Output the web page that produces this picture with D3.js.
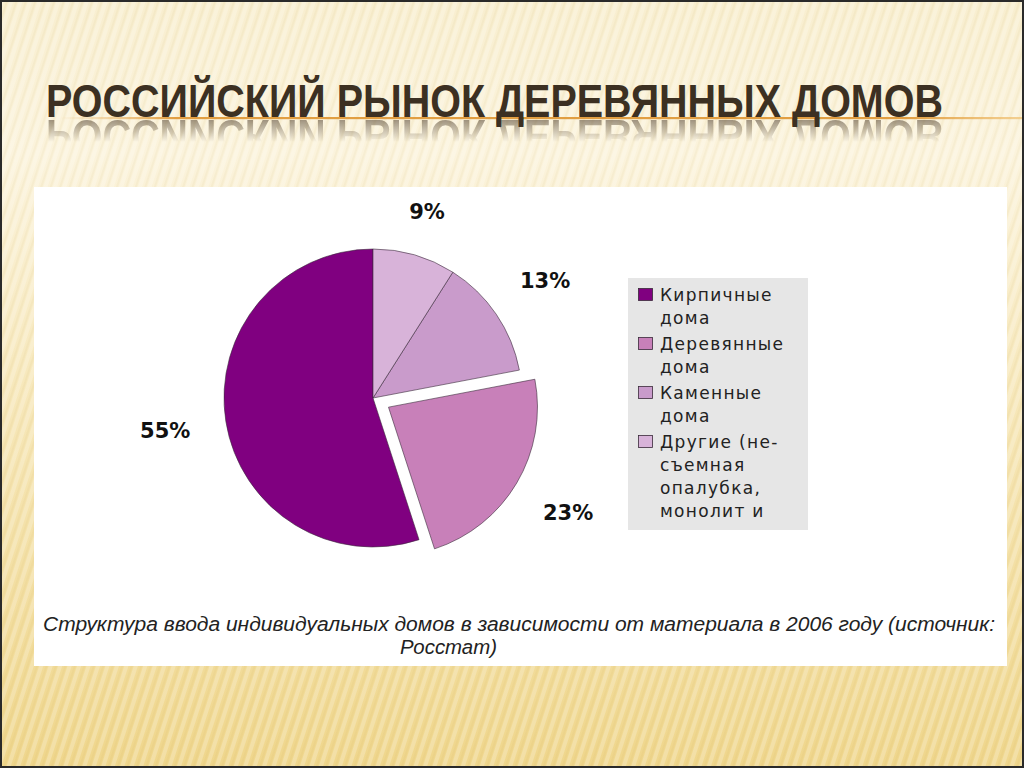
<!DOCTYPE html>
<html>
<head>
<meta charset="utf-8">
<script src="https://cdn.jsdelivr.net/npm/d3@7"></script>
<style>
  body { margin: 0; overflow: hidden; background: #fff; }
</style>
</head>
<body>
<svg width="1024" height="768"></svg>
<script>
// chart data
const title = "РОССИЙСКИЙ РЫНОК ДЕРЕВЯННЫХ ДОМОВ";
const categories = ["Кирпичные дома", "Деревянные дома", "Каменные дома", "Другие (несъемная опалубка, монолит и"];
const legendLines = [["Кирпичные", "дома"], ["Деревянные", "дома"], ["Каменные", "дома"], ["Другие (не-", "съемная", "опалубка,", "монолит и"]];
const shares = [55, 23, 13, 9];
const shareLabels = ["55%", "23%", "13%", "9%"];
const colors = ["#800080", "#c880b9", "#c99bcb", "#d8b3d9"];
const exploded = [false, true, false, false];
const caption = ["Структура ввода индивидуальных домов в зависимости от материала в 2006 году (источник:", "Росстат)"];

const svg = d3.select("svg");
const width = 1024, height = 768;
const defs = svg.append("defs");

// background
const bg = defs.append("linearGradient").attr("id", "bg").attr("x1", 0).attr("y1", 0).attr("x2", 0).attr("y2", 1);
bg.append("stop").attr("offset", 0).attr("stop-color", "#f8eecf");
bg.append("stop").attr("offset", 0.2).attr("stop-color", "#fbf3dc");
bg.append("stop").attr("offset", 0.55).attr("stop-color", "#f6e6b6");
bg.append("stop").attr("offset", 1).attr("stop-color", "#efd68c");

const stripes = defs.append("pattern").attr("id", "stripes")
    .attr("patternUnits", "userSpaceOnUse")
    .attr("width", 9).attr("height", 40)
    .attr("patternTransform", "rotate(18)");
stripes.append("rect").attr("x", 0).attr("y", 0).attr("width", 4).attr("height", 40)
    .attr("fill", "#fff").attr("opacity", 0.22);
stripes.append("rect").attr("x", 6).attr("y", 0).attr("width", 2).attr("height", 40)
    .attr("fill", "#b08a30").attr("opacity", 0.05);

svg.append("rect").attr("width", width).attr("height", height).attr("fill", "url(#bg)");
svg.append("rect").attr("width", width).attr("height", height).attr("fill", "url(#stripes)");

// title underline
const lineGrad = defs.append("linearGradient").attr("id", "lineGrad");
lineGrad.append("stop").attr("offset", 0).attr("stop-color", "#e9a84a").attr("stop-opacity", 0);
lineGrad.append("stop").attr("offset", 0.12).attr("stop-color", "#e09a3a").attr("stop-opacity", 0.95);
lineGrad.append("stop").attr("offset", 0.88).attr("stop-color", "#e09a3a").attr("stop-opacity", 0.95);
lineGrad.append("stop").attr("offset", 1).attr("stop-color", "#f0c070").attr("stop-opacity", 0.7);
svg.append("rect").attr("x", 60).attr("y", 117).attr("width", width - 62).attr("height", 2.2)
    .attr("fill", "url(#lineGrad)");

// title with reflection
const titleFont = "'Liberation Sans Narrow', 'Arial Narrow', 'Liberation Sans', sans-serif";
const titleX = 46, titleBase = 117, titleLen = 897, titleSize = 47;

const reflGrad = defs.append("linearGradient").attr("id", "reflGrad")
    .attr("gradientUnits", "userSpaceOnUse").attr("x1", 0).attr("y1", 119).attr("x2", 0).attr("y2", 142);
reflGrad.append("stop").attr("offset", 0).attr("stop-color", "#fff").attr("stop-opacity", 0.6);
reflGrad.append("stop").attr("offset", 1).attr("stop-color", "#fff").attr("stop-opacity", 0);
defs.append("mask").attr("id", "reflMask").attr("maskUnits", "userSpaceOnUse")
    .attr("x", 0).attr("y", 0).attr("width", width).attr("height", height)
    .append("rect").attr("x", 0).attr("y", 118).attr("width", width).attr("height", 30)
    .attr("fill", "url(#reflGrad)");

svg.append("g").attr("mask", "url(#reflMask)")
  .append("text")
    .attr("transform", `translate(0,${2 * titleBase + 3}) scale(1,-1)`)
    .attr("x", titleX).attr("y", titleBase)
    .attr("textLength", titleLen).attr("lengthAdjust", "spacingAndGlyphs")
    .attr("font-family", titleFont).attr("font-weight", "bold").attr("font-size", titleSize)
    .attr("fill", "#5a4a36")
    .text(title);

svg.append("text")
    .attr("x", titleX).attr("y", titleBase)
    .attr("textLength", titleLen).attr("lengthAdjust", "spacingAndGlyphs")
    .attr("font-family", titleFont).attr("font-weight", "bold").attr("font-size", titleSize)
    .attr("fill", "#3c3022")
    .text(title);

// white panel
svg.append("rect").attr("x", 34).attr("y", 187).attr("width", 973).attr("height", 479).attr("fill", "#fff");

// pie
const cx = 373, cy = 398, radius = 149, explode = 18;
const data = shares.map((v, i) => ({ name: categories[i], value: v, label: shareLabels[i], color: colors[i], exploded: exploded[i] }));

const pie = d3.pie().sort(null).value(d => d.value).startAngle(0).endAngle(-2 * Math.PI);
const arcs = pie(data);
const arc = d3.arc().innerRadius(0).outerRadius(radius);

const gPie = svg.append("g").attr("transform", `translate(${cx},${cy})`);

function offset(d, r) {
  const a = (d.startAngle + d.endAngle) / 2;
  return [Math.sin(a) * r, -Math.cos(a) * r];
}

gPie.selectAll("path").data(arcs).enter().append("path")
    .attr("d", arc)
    .attr("transform", d => {
      const [dx, dy] = d.data.exploded ? offset(d, explode) : [0, 0];
      return `translate(${dx},${dy})`;
    })
    .attr("fill", d => d.data.color)
    .attr("stroke", "#3a2a3a")
    .attr("stroke-width", 0.6)
    .attr("stroke-linejoin", "round");

// percentage labels placed outside, box edge anchored to a circle
const labelR = 185;
const labelSel = gPie.selectAll("text.pct").data(arcs).enter().append("text")
    .attr("class", "pct")
    .attr("font-family", "'DejaVu Sans', sans-serif")
    .attr("font-weight", "bold")
    .attr("font-size", 21)
    .attr("fill", "#111")
    .attr("text-anchor", "middle")
    .attr("dominant-baseline", "central")
    .text(d => d.data.label);

labelSel.each(function(d) {
  const bb = this.getBBox();
  const hw = bb.width / 2, hh = 4;
  const a = (d.startAngle + d.endAngle) / 2;
  const s = Math.sin(a), c = -Math.cos(a);
  const r = labelR + (d.data.exploded ? explode : 0) + hw * Math.abs(s) + hh * Math.abs(c);
  d3.select(this).attr("x", s * r).attr("y", c * r);
});

// legend
svg.append("rect").attr("x", 628).attr("y", 278).attr("width", 180).attr("height", 252).attr("fill", "#e6e6e6");

const gLeg = svg.append("g");
let ly = 301;
const lineH = 23;
data.forEach((d, i) => {
  gLeg.append("rect")
      .attr("x", 638.5).attr("y", ly - 12.5)
      .attr("width", 14).attr("height", 12)
      .attr("fill", d.color)
      .attr("stroke", "#3a2a3a").attr("stroke-width", 0.8);
  legendLines[i].forEach((t, j) => {
    gLeg.append("text")
        .attr("x", 660).attr("y", ly + j * lineH)
        .attr("font-family", "'DejaVu Sans', sans-serif")
        .attr("font-size", 17)
        .attr("letter-spacing", 1.3)
        .attr("fill", "#222")
        .text(t);
  });
  ly += legendLines[i].length * lineH + 3;
});

// caption
const capFont = "'Liberation Sans Narrow', 'Arial Narrow', 'Liberation Sans', sans-serif";
svg.append("text")
    .attr("x", 43).attr("y", 631)
    .attr("textLength", 952).attr("lengthAdjust", "spacingAndGlyphs")
    .attr("font-family", capFont).attr("font-style", "italic").attr("font-size", 20)
    .attr("fill", "#222")
    .text(caption[0]);
svg.append("text")
    .attr("x", 400).attr("y", 654)
    .attr("textLength", 97).attr("lengthAdjust", "spacingAndGlyphs")
    .attr("font-family", capFont).attr("font-style", "italic").attr("font-size", 20)
    .attr("fill", "#222")
    .text(caption[1]);

// frame
svg.append("rect").attr("x", 1).attr("y", 1).attr("width", width - 2).attr("height", height - 2)
    .attr("fill", "none").attr("stroke", "#2a2a2a").attr("stroke-width", 2);
</script>
</body>
</html>
